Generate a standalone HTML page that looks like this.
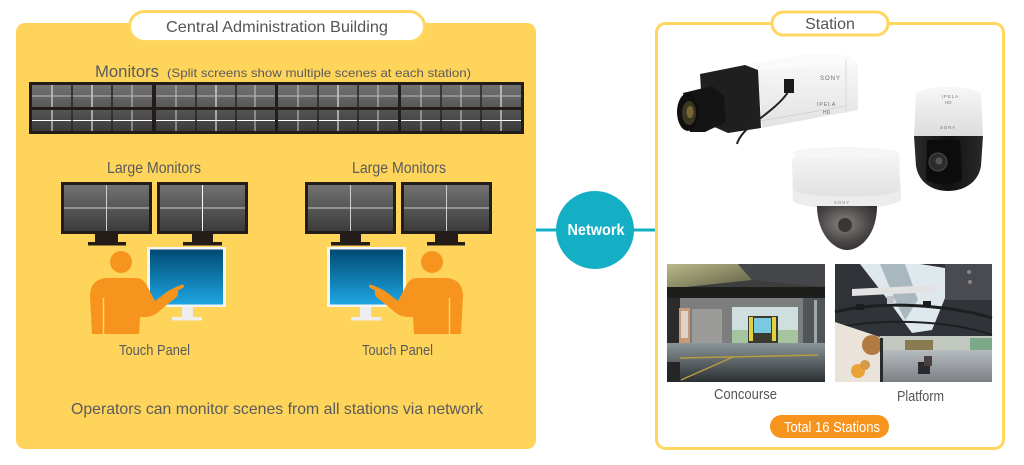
<!DOCTYPE html>
<html>
<head>
<meta charset="utf-8">
<style>
  html,body{margin:0;padding:0;background:#fff;}
  body{width:1024px;height:465px;overflow:hidden;}
  svg{display:block;}
  text{font-family:"Liberation Sans", Arial, sans-serif;}
</style>
</head>
<body>
<svg width="1024" height="465" viewBox="0 0 1024 465" xmlns="http://www.w3.org/2000/svg">
  <defs>
    <linearGradient id="scr" x1="0" y1="0" x2="0" y2="1">
      <stop offset="0" stop-color="#727272"/>
      <stop offset="1" stop-color="#3b3b3b"/>
    </linearGradient>
    <linearGradient id="blue" x1="0" y1="0" x2="0" y2="1">
      <stop offset="0" stop-color="#004a74"/>
      <stop offset="1" stop-color="#1ea6e2"/>
    </linearGradient>
    <linearGradient id="camBody" x1="0" y1="0" x2="0" y2="1">
      <stop offset="0" stop-color="#fbfbfb"/>
      <stop offset="1" stop-color="#e2e2e2"/>
    </linearGradient>
    <linearGradient id="domeW" x1="0" y1="0" x2="0" y2="1">
      <stop offset="0" stop-color="#f7f7f7"/>
      <stop offset="1" stop-color="#dcdcdc"/>
    </linearGradient>
    <radialGradient id="lensDome" cx="0.45" cy="0.4" r="0.7">
      <stop offset="0" stop-color="#8a8583"/>
      <stop offset="0.6" stop-color="#4a4646"/>
      <stop offset="1" stop-color="#2a2828"/>
    </radialGradient>
    <linearGradient id="ptzBlack" x1="0" y1="0" x2="1" y2="0">
      <stop offset="0" stop-color="#2a2a2a"/>
      <stop offset="0.5" stop-color="#111"/>
      <stop offset="1" stop-color="#2a2a2a"/>
    </linearGradient>
    <linearGradient id="ceilLit" x1="0" y1="0" x2="1" y2="1">
      <stop offset="0" stop-color="#b9b98a"/>
      <stop offset="1" stop-color="#5e5e44"/>
    </linearGradient>
    <linearGradient id="floorC" x1="0" y1="0" x2="0" y2="1">
      <stop offset="0" stop-color="#8b969a"/>
      <stop offset="1" stop-color="#2a2f31"/>
    </linearGradient>
    <linearGradient id="floorP" x1="0" y1="0" x2="0" y2="1">
      <stop offset="0" stop-color="#b7bcc0"/>
      <stop offset="1" stop-color="#7c8084"/>
    </linearGradient>
  </defs>

  <!-- ============ LEFT PANEL ============ -->
  <rect x="16" y="23" width="520" height="426" rx="9" fill="#FED45A"/>
  <rect x="129.5" y="11.5" width="295" height="30" rx="15" fill="#fff" stroke="#FFD660" stroke-width="3"/>
  <text x="277" y="32" font-size="16" fill="#555558" text-anchor="middle" textLength="222" lengthAdjust="spacingAndGlyphs">Central Administration Building</text>

  <text x="95" y="77" font-size="17" fill="#5a5a5e" textLength="64" lengthAdjust="spacingAndGlyphs">Monitors</text>
  <text x="167" y="77" font-size="12" fill="#5a5a5e" textLength="304" lengthAdjust="spacingAndGlyphs">(Split screens show multiple scenes at each station)</text>

  <!-- Monitor strip -->
  <rect x="29" y="82" width="495" height="52" fill="#231c19"/>
  <rect x="32" y="85" width="489" height="46" fill="url(#scr)"/>
  <g stroke-width="1">
    <line x1="52" y1="85" x2="52" y2="131" stroke="#f4f4f4"/>
    <line x1="92" y1="85" x2="92" y2="131" stroke="#ffffff"/>
    <line x1="132" y1="85" x2="132" y2="131" stroke="#c8c8c8"/>
    <line x1="176" y1="85" x2="176" y2="131" stroke="#c8c8c8"/>
    <line x1="216" y1="85" x2="216" y2="131" stroke="#ffffff"/>
    <line x1="255" y1="85" x2="255" y2="131" stroke="#c8c8c8"/>
    <line x1="298" y1="85" x2="298" y2="131" stroke="#c8c8c8"/>
    <line x1="338" y1="85" x2="338" y2="131" stroke="#ffffff"/>
    <line x1="378" y1="85" x2="378" y2="131" stroke="#c8c8c8"/>
    <line x1="421" y1="85" x2="421" y2="131" stroke="#c8c8c8"/>
    <line x1="461" y1="85" x2="461" y2="131" stroke="#c8c8c8"/>
    <line x1="501" y1="85" x2="501" y2="131" stroke="#ffffff"/>
    <line x1="32" y1="96" x2="521" y2="96" stroke="#bdbdbd"/>
    <line x1="32" y1="120.5" x2="521" y2="120.5" stroke="#ffffff"/>
  </g>
  <g stroke="#2b2422" stroke-width="1.5">
    <line x1="72" y1="85" x2="72" y2="131"/>
    <line x1="112" y1="85" x2="112" y2="131"/>
    <line x1="196" y1="85" x2="196" y2="131"/>
    <line x1="236" y1="85" x2="236" y2="131"/>
    <line x1="318" y1="85" x2="318" y2="131"/>
    <line x1="358" y1="85" x2="358" y2="131"/>
    <line x1="441" y1="85" x2="441" y2="131"/>
    <line x1="481" y1="85" x2="481" y2="131"/>
  </g>
  <rect x="29" y="107" width="495" height="3" fill="#231c19"/>
  <rect x="152" y="82" width="4" height="52" fill="#231c19"/>
  <rect x="275" y="82" width="3" height="52" fill="#231c19"/>
  <rect x="398" y="82" width="3" height="52" fill="#231c19"/>

  <!-- Group 1 -->
  <g id="grp1">
    <text x="154" y="173" font-size="15.5" fill="#5a5a5e" text-anchor="middle" textLength="94" lengthAdjust="spacingAndGlyphs">Large Monitors</text>
    <!-- monitor 1 -->
    <rect x="61" y="182" width="91" height="52" fill="#231c19"/>
    <rect x="64" y="185" width="85" height="46" fill="url(#scr)"/>
    <line x1="106.5" y1="185" x2="106.5" y2="231" stroke="#cfcfcf" stroke-width="1"/>
    <line x1="64" y1="208" x2="149" y2="208" stroke="#cfcfcf" stroke-width="1"/>
    <rect x="95" y="234" width="23" height="8" fill="#231c19"/>
    <rect x="88" y="242" width="38" height="3.5" fill="#231c19"/>
    <!-- monitor 2 -->
    <rect x="157" y="182" width="91" height="52" fill="#231c19"/>
    <rect x="160" y="185" width="85" height="46" fill="url(#scr)"/>
    <line x1="202.5" y1="185" x2="202.5" y2="231" stroke="#ffffff" stroke-width="1"/>
    <line x1="160" y1="208" x2="245" y2="208" stroke="#cfcfcf" stroke-width="1"/>
    <rect x="192" y="234" width="21" height="8" fill="#231c19"/>
    <rect x="183" y="242" width="39" height="3.5" fill="#231c19"/>
    <!-- touch panel -->
    <rect x="147" y="247" width="79" height="60" fill="#f4f4f4"/>
    <rect x="150" y="249.5" width="73" height="55" fill="url(#blue)"/>
    <rect x="182" y="307" width="11" height="10" fill="#eeeeee"/>
    <rect x="172" y="317" width="30" height="3.5" fill="#eeeeee"/>
    <!-- person -->
    <circle cx="121" cy="262" r="11" fill="#F7941D"/>
    <path d="M92,334 L90,296 C90,285 96,279 106,278 L136,278 C141,278 144,281 146,284 L155,301 L168,291 L176,287 L182.5,284.5 C184.5,284.5 184.5,287 182.5,288 L178,290.5 C178.5,293 178,296 176,297.5 L157,313 C155,315 150,316.5 146,317 L140,317 L139,334 Z" fill="#F7941D"/>
    <line x1="103.5" y1="298" x2="103.5" y2="334" stroke="#FED45A" stroke-width="1.5"/>
  </g>
  <text x="154.5" y="355" font-size="15" fill="#5a5a5e" text-anchor="middle" textLength="71" lengthAdjust="spacingAndGlyphs">Touch Panel</text>

  <!-- Group 2 (mirrored) -->
  <g transform="translate(553,0) scale(-1,1)">
    <rect x="61" y="182" width="91" height="52" fill="#231c19"/>
    <rect x="64" y="185" width="85" height="46" fill="url(#scr)"/>
    <line x1="106.5" y1="185" x2="106.5" y2="231" stroke="#cfcfcf" stroke-width="1"/>
    <line x1="64" y1="208" x2="149" y2="208" stroke="#cfcfcf" stroke-width="1"/>
    <rect x="95" y="234" width="23" height="8" fill="#231c19"/>
    <rect x="88" y="242" width="38" height="3.5" fill="#231c19"/>
    <rect x="157" y="182" width="91" height="52" fill="#231c19"/>
    <rect x="160" y="185" width="85" height="46" fill="url(#scr)"/>
    <line x1="202.5" y1="185" x2="202.5" y2="231" stroke="#cfcfcf" stroke-width="1"/>
    <line x1="160" y1="208" x2="245" y2="208" stroke="#cfcfcf" stroke-width="1"/>
    <rect x="192" y="234" width="21" height="8" fill="#231c19"/>
    <rect x="183" y="242" width="39" height="3.5" fill="#231c19"/>
    <rect x="147" y="247" width="79" height="60" fill="#f4f4f4"/>
    <rect x="150" y="249.5" width="73" height="55" fill="url(#blue)"/>
    <rect x="182" y="307" width="11" height="10" fill="#eeeeee"/>
    <rect x="172" y="317" width="30" height="3.5" fill="#eeeeee"/>
    <circle cx="121" cy="262" r="11" fill="#F7941D"/>
    <path d="M92,334 L90,296 C90,285 96,279 106,278 L136,278 C141,278 144,281 146,284 L155,301 L168,291 L176,287 L182.5,284.5 C184.5,284.5 184.5,287 182.5,288 L178,290.5 C178.5,293 178,296 176,297.5 L157,313 C155,315 150,316.5 146,317 L140,317 L139,334 Z" fill="#F7941D"/>
    <line x1="103.5" y1="298" x2="103.5" y2="334" stroke="#FED45A" stroke-width="1.5"/>
  </g>
  <text x="399" y="173" font-size="15.5" fill="#5a5a5e" text-anchor="middle" textLength="94" lengthAdjust="spacingAndGlyphs">Large Monitors</text>
  <text x="397.5" y="355" font-size="15" fill="#5a5a5e" text-anchor="middle" textLength="71" lengthAdjust="spacingAndGlyphs">Touch Panel</text>

  <text x="277" y="414" font-size="16" fill="#5a5a5e" text-anchor="middle" textLength="412" lengthAdjust="spacingAndGlyphs">Operators can monitor scenes from all stations via network</text>

  <!-- ============ NETWORK ============ -->
  <line x1="536" y1="230" x2="656" y2="230" stroke="#15AFC5" stroke-width="3"/>
  <circle cx="595" cy="230" r="39" fill="#15AFC5"/>
  <text x="596" y="235" font-size="16" font-weight="bold" fill="#fff" text-anchor="middle" textLength="57" lengthAdjust="spacingAndGlyphs">Network</text>

  <!-- ============ STATION BOX ============ -->
  <rect x="656.5" y="23.5" width="347" height="425" rx="9" fill="#fff" stroke="#FFD660" stroke-width="3"/>
  <rect x="772" y="12" width="116" height="23" rx="11.5" fill="#fff" stroke="#FFD660" stroke-width="3"/>
  <text x="830" y="29" font-size="16" fill="#555558" text-anchor="middle">Station</text>

  <!-- Box camera -->
  <g>
    <polygon points="745,65 812,53 850,56 858,64 858,110 762,128 758,70" fill="url(#camBody)"/>
    <polygon points="745,65 812,53 850,56 858,64 760,70" fill="#fafafa"/>
    <line x1="846" y1="60" x2="846" y2="113" stroke="#d8d8d8" stroke-width="1"/>
    <line x1="760" y1="121" x2="846" y2="106" stroke="#cfcfcf" stroke-width="0.8"/>
    <polygon points="700,74 745,65 758,70 761,128 728,133 703,122" fill="#1f1f1f"/>
    <polygon points="683,93 712,86 724,96 726,122 705,132 690,132" fill="#141414"/>
    <ellipse cx="688" cy="112" rx="11" ry="19" fill="#0f0f0f"/>
    <ellipse cx="689" cy="113" rx="7" ry="12" fill="#3d3524"/>
    <ellipse cx="690" cy="112" rx="3.5" ry="6" fill="#7a6535"/>
    <rect x="784" y="79" width="10" height="14" fill="#1a1a1a"/>
    <path d="M788,92 C780,105 760,118 748,128 C742,134 738,140 737,144" fill="none" stroke="#222" stroke-width="2"/>
    <text x="820" y="80" font-size="6" fill="#6a6a6a" font-family="Liberation Serif, serif" letter-spacing="1">SONY</text>
    <text x="817" y="106" font-size="5" fill="#6a6a6a" letter-spacing="1">IPELA</text>
    <text x="823" y="114" font-size="5" fill="#6a6a6a">HD</text>
  </g>

  <!-- PTZ dome -->
  <g>
    <path d="M916,93 C930,85 968,85 981,93 L983,136 L914,136 Z" fill="url(#domeW)"/>
    <path d="M914,136 L983,136 L981,166 C978,184 962,191 948,191 C934,191 919,184 916,166 Z" fill="url(#ptzBlack)"/>
    <path d="M927,140 L960,140 L962,180 C950,186 938,186 926,180 Z" fill="#0c0c0c"/>
    <circle cx="938" cy="162" r="9" fill="#2c2c2c" stroke="#4a4a4a" stroke-width="1"/>
    <circle cx="939" cy="161" r="3.5" fill="#555"/>
    <text x="942" y="98" font-size="4.5" fill="#777" letter-spacing="0.8">IPELA</text>
    <text x="945" y="104" font-size="4.5" fill="#777">HD</text>
    <text x="940" y="129" font-size="4.5" fill="#777" letter-spacing="0.8">SONY</text>
  </g>

  <!-- Dome camera -->
  <g>
    <path d="M792,160 C795,150 850,146 899,154 L901,200 C890,211 805,211 793,201 Z" fill="url(#domeW)"/>
    <ellipse cx="846" cy="153" rx="53" ry="6" fill="#f6f6f6"/>
    <path d="M793,190 C805,199 890,199 901,190 L901,200 C890,211 805,211 793,201 Z" fill="#ececec"/>
    <path d="M817,206 C817,234 834,250 847,250 C861,250 877,234 877,206 Z" fill="url(#lensDome)"/>
    <circle cx="845" cy="225" r="7" fill="#3a3636"/>
    <text x="834" y="204" font-size="4.5" fill="#888" letter-spacing="0.8">SONY</text>
  </g>

  <!-- Concourse photo -->
  <g>
    <rect x="667" y="264" width="158" height="118" fill="#3b3e3b"/>
    <polygon points="667,264 738,264 752,280 667,289" fill="url(#ceilLit)"/>
    <polygon points="738,264 825,264 825,287 752,280" fill="#46474a"/>
    <rect x="667" y="287" width="158" height="11" fill="#1d1d1b"/>
    <rect x="680" y="298" width="125" height="47" fill="#7b7e7c"/>
    <rect x="667" y="298" width="13" height="64" fill="#2b2b2b"/>
    <rect x="679" y="308" width="11" height="35" fill="#c99a78"/>
    <rect x="681" y="311" width="7" height="27" fill="#dcd4c4"/>
    <rect x="692" y="309" width="30" height="34" fill="#9b9c9a"/>
    <rect x="732" y="307" width="66" height="36" fill="#cfdede"/>
    <rect x="732" y="330" width="66" height="13" fill="#a6c49e"/>
    <rect x="748" y="316" width="30" height="27" fill="#3a3a30"/>
    <rect x="749" y="317" width="4" height="24" fill="#e2d03e"/>
    <rect x="772" y="317" width="4" height="24" fill="#e2d03e"/>
    <rect x="754" y="318" width="17" height="15" fill="#79c9e0"/>
    <rect x="803" y="298" width="22" height="50" fill="#50555a"/>
    <rect x="814" y="300" width="3" height="45" fill="#a0a7a6"/>
    <rect x="667" y="343" width="158" height="39" fill="url(#floorC)"/>
    <rect x="667" y="362" width="13" height="20" fill="#262626"/>
    <line x1="680" y1="358" x2="818" y2="355" stroke="#b99b42" stroke-width="1.5"/>
    <line x1="733" y1="357" x2="681" y2="380" stroke="#b99b42" stroke-width="1.5"/>
  </g>

  <!-- Platform photo -->
  <g>
    <rect x="835" y="264" width="157" height="118" fill="#303337"/>
    <polygon points="860,264 920,264 945,268 945,298 932,330 912,333 888,300" fill="#dfe8ec"/>
    <polygon points="880,264 905,264 918,300 905,320 895,300" fill="#a9b7bf"/>
    <rect x="945" y="264" width="47" height="36" fill="#494b50"/>
    <circle cx="969" cy="272" r="2" fill="#888"/>
    <circle cx="970" cy="282" r="2" fill="#888"/>
    <path d="M835,312 C880,300 950,305 992,318" fill="none" stroke="#1d1f22" stroke-width="3"/>
    <path d="M835,328 C880,318 950,320 992,335" fill="none" stroke="#1d1f22" stroke-width="2"/>
    <polygon points="852,289 935,285 935,292 852,296" fill="#e2e2e2"/>
    <rect x="856" y="304" width="8" height="6" fill="#1c1c1c"/>
    <rect x="887" y="296" width="7" height="8" fill="#bfc3c6"/>
    <rect x="923" y="301" width="8" height="6" fill="#1c1c1c"/>
    <rect x="880" y="336" width="112" height="16" fill="#c2c9c0"/>
    <rect x="905" y="340" width="28" height="10" fill="#8a7a50"/>
    <rect x="970" y="338" width="22" height="20" fill="#7da98a"/>
    <rect x="835" y="350" width="157" height="32" fill="url(#floorP)"/>
    <polygon points="835,322 880,337 880,382 835,382" fill="#e9e3d9"/>
    <circle cx="872" cy="345" r="10" fill="#b27a42"/>
    <circle cx="858" cy="371" r="7" fill="#e9a233"/>
    <circle cx="865" cy="365" r="5" fill="#d49a4a"/>
    <rect x="880" y="338" width="3" height="44" fill="#2a2a2a"/>
    <rect x="918" y="362" width="12" height="12" fill="#2a2a30"/>
    <rect x="924" y="356" width="8" height="10" fill="#4a4040"/>
  </g>

  <text x="745.5" y="399" font-size="15" fill="#555558" text-anchor="middle" textLength="63" lengthAdjust="spacingAndGlyphs">Concourse</text>
  <text x="920.5" y="401" font-size="15" fill="#555558" text-anchor="middle" textLength="47" lengthAdjust="spacingAndGlyphs">Platform</text>

  <rect x="770" y="415" width="119" height="23" rx="11.5" fill="#F7941D"/>
  <text x="832" y="432" font-size="14.5" fill="#fff" text-anchor="middle" textLength="96" lengthAdjust="spacingAndGlyphs">Total 16 Stations</text>
</svg>
</body>
</html>
